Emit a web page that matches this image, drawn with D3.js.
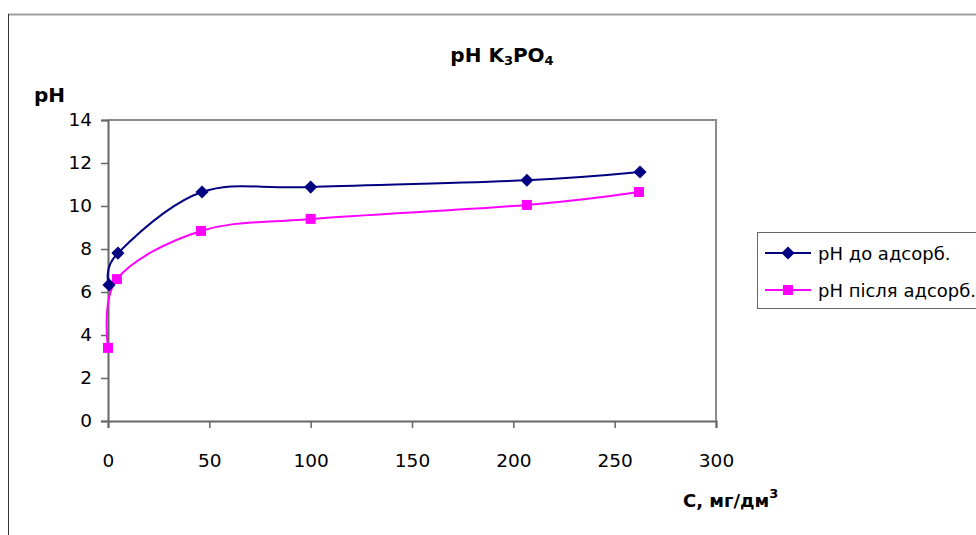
<!DOCTYPE html>
<html>
<head>
<meta charset="utf-8">
<script src="https://cdn.jsdelivr.net/npm/d3@7"></script>
<style>
  body { margin: 0; background: #fff; }
  text { font-family: "DejaVu Sans", Verdana, sans-serif; }
</style>
</head>
<body>
<div id="chart"></div>
<script>
// concentration, mg/dm3
const concBefore = [0.5, 4.9, 46.4, 100, 206.7, 262.5];
const phBefore = [6.33, 7.81, 10.65, 10.88, 11.2, 11.58];
const concAfter = [0, 4.4, 45.9, 100, 206.7, 262];
const phAfter = [3.4, 6.6, 8.84, 9.4, 10.05, 10.65];
const xTicks = [0, 50, 100, 150, 200, 250, 300];
const yTicks = [0, 2, 4, 6, 8, 10, 12, 14];
const seriesNames = ["pH до адсорб.", "pH після адсорб."];

const width = 976;
const height = 535;
const margin = { top: 120, right: 260, bottom: 114, left: 108 };

const svg = d3.select("#chart")
  .append("svg")
  .attr("width", width)
  .attr("height", height);

// outer frame
svg.append("line")
  .attr("x1", 8).attr("x2", width).attr("y1", 14.5).attr("y2", 14.5)
  .attr("stroke", "#a0a0a0").attr("stroke-width", 2);
svg.append("line")
  .attr("x1", 8.5).attr("x2", 8.5).attr("y1", 14).attr("y2", height)
  .attr("stroke", "#333").attr("stroke-width", 1);

const x = d3.scaleLinear()
  .domain([0, 300])
  .range([margin.left, width - margin.right]);

const y = d3.scaleLinear()
  .domain([0, 14])
  .range([height - margin.bottom, margin.top]);

// plot frame (top, right)
svg.append("path")
  .attr("d", `M${x(0)},${y(14)}H${x(300)}V${y(0)}`)
  .attr("fill", "none")
  .attr("stroke", "#8c8c8c")
  .attr("stroke-width", 2);

const xAxis = svg.append("g")
  .attr("transform", `translate(0,${y(0)})`)
  .call(d3.axisBottom(x).tickValues(xTicks).tickSize(7).tickPadding(26));

const yAxis = svg.append("g")
  .attr("transform", `translate(${x(0)},0)`)
  .call(d3.axisLeft(y).tickValues(yTicks).tickSize(7).tickPadding(9));

[xAxis, yAxis].forEach(g => {
  g.select(".domain").attr("stroke", "#666").attr("stroke-width", 2);
  g.selectAll(".tick line").attr("stroke", "#666").attr("stroke-width", 1.5);
  g.selectAll(".tick text")
    .attr("font-family", "DejaVu Sans, sans-serif")
    .attr("font-size", 18.5)
    .attr("fill", "#000");
});

const line = d3.line()
  .x(d => x(d[0]))
  .y(d => y(d[1]))
  .curve(d3.curveCardinal.tension(0));

const before = concBefore.map((c, i) => [c, phBefore[i]]);
const after = concAfter.map((c, i) => [c, phAfter[i]]);

svg.append("path")
  .datum(after)
  .attr("fill", "none")
  .attr("stroke", "#ff00ff")
  .attr("stroke-width", 2)
  .attr("d", line);

svg.append("path")
  .datum(before)
  .attr("fill", "none")
  .attr("stroke", "#000080")
  .attr("stroke-width", 2)
  .attr("d", line);

const diamond = d3.symbol().type(d3.symbolDiamond2).size(110);
const square = d3.symbol().type(d3.symbolSquare).size(100);

svg.append("g")
  .selectAll("path")
  .data(after)
  .join("path")
    .attr("transform", d => `translate(${x(d[0])},${y(d[1])})`)
    .attr("d", square)
    .attr("fill", "#ff00ff");

svg.append("g")
  .selectAll("path")
  .data(before)
  .join("path")
    .attr("transform", d => `translate(${x(d[0])},${y(d[1])})`)
    .attr("d", diamond)
    .attr("fill", "#000080");

// titles
svg.append("text")
  .attr("x", 502).attr("y", 62)
  .attr("text-anchor", "middle")
  .attr("font-size", 20).attr("font-weight", "bold")
  .call(t => {
    t.append("tspan").text("pH K");
    t.append("tspan").attr("font-size", 13).attr("dy", 3).text("3");
    t.append("tspan").attr("dy", -3).text("PO");
    t.append("tspan").attr("font-size", 13).attr("dy", 3).text("4");
  });

svg.append("text")
  .attr("x", 34).attr("y", 102)
  .attr("font-size", 20).attr("font-weight", "bold")
  .text("pH");

svg.append("text")
  .attr("x", 683).attr("y", 507)
  .attr("font-size", 18).attr("font-weight", "bold")
  .call(t => {
    t.append("tspan").text("С, мг/дм");
    t.append("tspan").attr("font-size", 13).attr("dy", -9).text("3");
  });

// legend
const legend = svg.append("g");
legend.append("rect")
  .attr("x", 757.5).attr("y", 232.5)
  .attr("width", 240).attr("height", 76)
  .attr("fill", "#fff")
  .attr("stroke", "#666");

const colors = ["#000080", "#ff00ff"];
const symbols = [diamond, square];
seriesNames.forEach((name, i) => {
  const ly = 253 + i * 37;
  legend.append("line")
    .attr("x1", 765).attr("x2", 811).attr("y1", ly).attr("y2", ly)
    .attr("stroke", colors[i]).attr("stroke-width", 2);
  legend.append("path")
    .attr("transform", `translate(788,${ly})`)
    .attr("d", symbols[i])
    .attr("fill", colors[i]);
  legend.append("text")
    .attr("x", 818).attr("y", ly + 7)
    .attr("font-size", 18)
    .text(name);
});
</script>
</body>
</html>
